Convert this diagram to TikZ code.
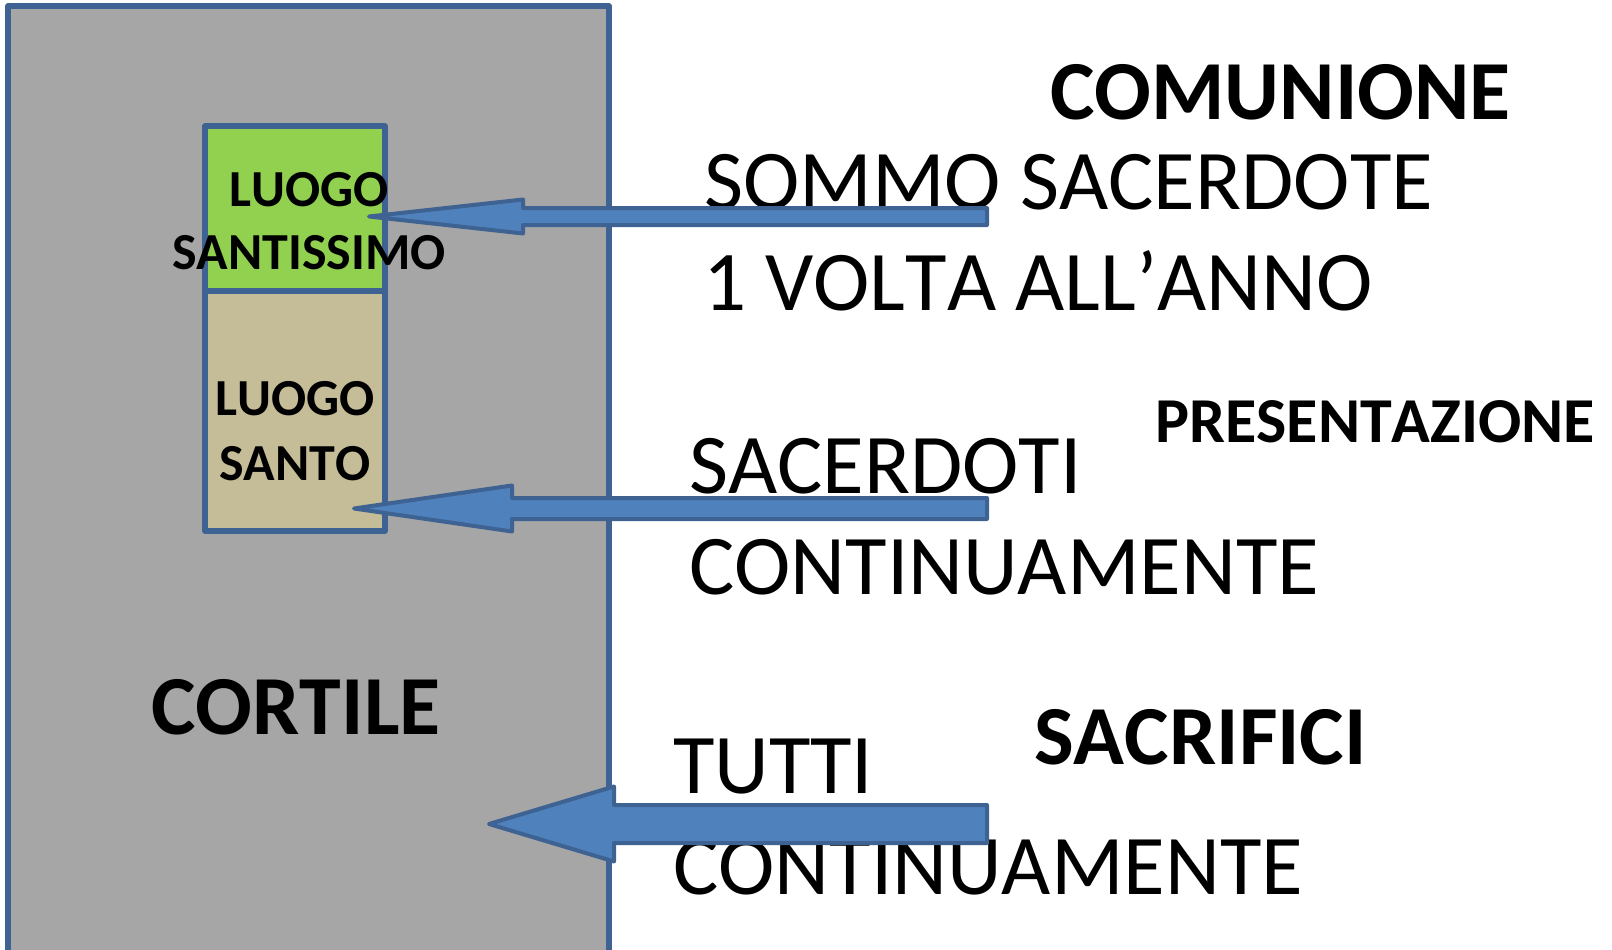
\documentclass[tikz,border=0pt]{standalone}
\usepackage{fontspec}
\setmainfont{Carlito}[Kerning=Off]
\usetikzlibrary{calc}
\definecolor{courtgrey}{HTML}{A6A6A6}
\definecolor{holygreen}{HTML}{92D050}
\definecolor{holytan}{HTML}{C4BD97}
\definecolor{arrowblue}{HTML}{4F81BD}
\definecolor{edgeblue}{HTML}{3E6291}
\tikzset{
  room/.style={draw=edgeblue, line width=5.5pt, line join=round},
  barrow/.style={draw=edgeblue, fill=arrowblue, line width=4pt, line join=round},
  big/.style={inner sep=0pt, font=\fontsize{85}{101}\selectfont},
  bigb/.style={inner sep=0pt, font=\fontsize{84}{101}\selectfont\bfseries},
  midb/.style={inner sep=0pt, font=\fontsize{64}{77}\selectfont\bfseries},
  smallb/.style={inner sep=0pt, font=\fontsize{52}{63}\selectfont\bfseries},
}
\newcommand{\blockarrow}[5]{%
  \draw[barrow] let \p1=(#1), \p2=(#2) in
    (\x2,\y1+#4) -- (\x1+#3,\y1+#4) -- (\x1+#3,\y1+#5) -- (\p1)
    -- (\x1+#3,\y1-#5) -- (\x1+#3,\y1-#4) -- (\x2,\y1-#4) -- cycle;}
\begin{document}
\begin{tikzpicture}[x=1pt,y=-1pt]
\useasboundingbox (0,0) rectangle (1612,950);
% rooms
\draw[room, fill=courtgrey] (8,6) rectangle (609,970);
\draw[room, fill=holygreen] (205,126) rectangle (385,291);
\draw[room, fill=holytan] (205,291) rectangle (385,531);
% room labels
\node[smallb, anchor=base] (l1) at (309,206) {LUOGO};
\node[smallb, anchor=base] (l2) at (309,269) {SANTISSIMO};
\node[smallb, anchor=base] (l3) at (295,415) {LUOGO};
\node[smallb, anchor=base] (l4) at (295,480) {SANTO};
\node[bigb, anchor=base] (cort) at (296,734) {CORTILE};
% right texts
\node[bigb, anchor=base west] (com) at (1050,119) {COMUNIONE};
\node[big, anchor=base west] (t1) at (704,209) {SOMMO SACERDOTE};
\node[big, anchor=base west] (t2) at (703,310) {1 VOLTA ALL’ANNO};
\node[midb, anchor=base west] (pres) at (1155,442) {PRESENTAZIONE};
\node[big, anchor=base west] (t3) at (689,493) {SACERDOTI};
\node[big, anchor=base west] (t4) at (689,594) {CONTINUAMENTE};
\node[bigb, anchor=base west] (sac) at (1034,764) {SACRIFICI};
\node[big, anchor=base west] (t5) at (673,793) {TUTTI};
\node[big, anchor=base west] (t6) at (673,894) {CONTINUAMENTE};
% arrows
\coordinate (tip1) at (369,216.5);
\coordinate (tail1) at (987,216.5);
\coordinate (tip2) at (354,508.5);
\coordinate (tail2) at (987,508.5);
\coordinate (tip3) at (489,824);
\coordinate (tail3) at (987,824);
\blockarrow{tip1}{tail1}{154pt}{8.5pt}{17pt}
\blockarrow{tip2}{tail2}{158pt}{10.5pt}{23pt}
\blockarrow{tip3}{tail3}{125pt}{19pt}{37.5pt}
\end{tikzpicture}
\end{document}
